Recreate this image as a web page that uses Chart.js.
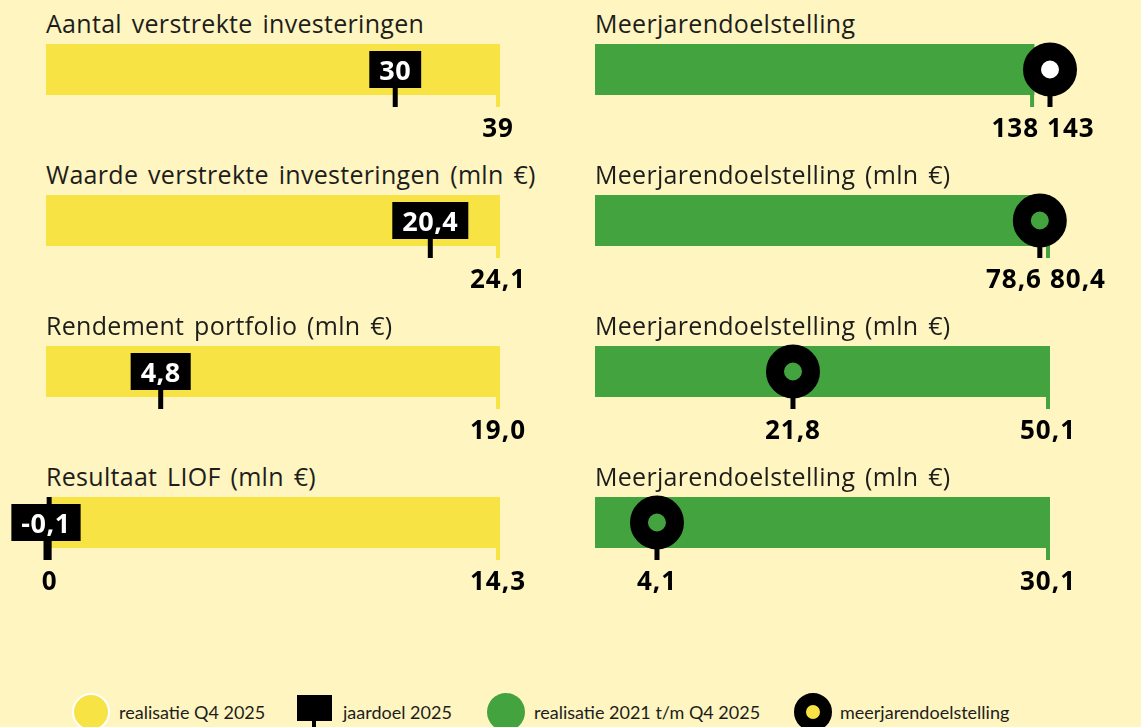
<!DOCTYPE html>
<html lang="nl">
<head>
<meta charset="utf-8">
<title>LIOF doelstellingen</title>
<script src="https://cdn.jsdelivr.net/npm/chart.js@4.4.1/dist/chart.umd.min.js"></script>
<style>
  html, body { margin: 0; padding: 0; background: #fef5c1; }
  body { width: 1141px; height: 727px; position: relative; overflow: hidden;
         font-family: "Open Sans", "Noto Sans", sans-serif; color: #1d1d1b; }
  .title { position: absolute; font-size: 25px; line-height: 25px; white-space: nowrap;
           letter-spacing: 0.3px; word-spacing: 3px; }
  canvas { position: absolute; }
  .legend { position: absolute; top: 693px; height: 38px; display: flex; align-items: center;
            font-family: Lato, sans-serif; font-size: 18px; white-space: nowrap; }
  .sym { position: absolute; box-sizing: border-box; }
</style>
</head>
<body>
<div id="root"></div>
<script>
// titels per rij
const titlesJaar = ['Aantal verstrekte investeringen', 'Waarde verstrekte investeringen (mln €)',
                    'Rendement portfolio (mln €)', 'Resultaat LIOF (mln €)'];
const titlesMeerjarig = ['Meerjarendoelstelling', 'Meerjarendoelstelling (mln €)',
                         'Meerjarendoelstelling (mln €)', 'Meerjarendoelstelling (mln €)'];
// waarden
const realisatieQ4 = [39, 24.1, 19.0, 14.3];
const jaardoel2025 = [30, 20.4, 4.8, -0.1];
const realisatieMeerjarig = [138, 80.4, 50.1, 30.1];
const meerjarendoel = [143, 78.6, 21.8, 4.1];
const decimalen = [0, 1, 1, 1];

const YELLOW = '#f8e345', GREEN = '#43a33f';
const ROW_TOP = [44, 195, 346, 497];
const BAR_H = 51, TICK = 12;
const COLS = [{ x: 46, w: 454 }, { x: 595, w: 455 }];
const PAD_L = 40, PAD_R = 60, PAD_T = 10, PAD_B = 58;
const LABEL_FONT = 'bold 26px "Open Sans"';

const fmt = (v, d) => v.toFixed(d).replace('.', ',');

const bulletMarks = {
  id: 'bulletMarks',
  afterDatasetsDraw(chart, args, o) {
    const { ctx, chartArea: a, scales: { x } } = chart;
    const top = a.top, bot = a.bottom, cy = (top + bot) / 2;
    const xv = x.getPixelForValue(o.value);
    const xt = x.getPixelForValue(o.target);
    ctx.save();
    // eindstreepje van de balk
    ctx.fillStyle = o.color;
    ctx.fillRect(xv - 4, bot - 1, 4, TICK + 1);
    ctx.fillStyle = '#000';
    ctx.textBaseline = 'alphabetic';
    const ly = bot + 42;
    if (o.kind === 'box') {
      // jaardoel: zwart label met steeltje
      if (x.min < 0) {
        const x0 = x.getPixelForValue(0);
        ctx.fillRect(x0 - 2.5, top, 5, bot - top + TICK);
        ctx.font = LABEL_FONT;
        ctx.textAlign = 'center';
        ctx.fillText('0', x0, ly);
      }
      ctx.font = 'bold 27px "Open Sans"';
      ctx.letterSpacing = '0.5px';
      const t = fmt(o.target, o.dec);
      const w = ctx.measureText(t).width + 20, h = 37, by = top + 7;
      ctx.fillRect(xt - 2.5, by + h - 1, 5, bot + TICK - by - h + 1);
      ctx.fillRect(xt - w / 2, by, w, h);
      ctx.fillStyle = '#fff';
      ctx.textAlign = 'center';
      ctx.fillText(t, xt, by + h / 2 + 10);
      ctx.fillStyle = '#000';
      ctx.font = LABEL_FONT;
      ctx.letterSpacing = '1px';
      ctx.fillText(fmt(o.value, o.dec), xv - 2, ly);
    } else {
      // meerjarendoel: ring met steeltje
      ctx.fillRect(xt - 2.5, cy + 24, 5, bot + TICK - cy - 24);
      ctx.beginPath();
      ctx.arc(xt, cy, 18, 0, Math.PI * 2);
      ctx.fillStyle = o.value >= o.target ? o.color : '#fff';
      ctx.fill();
      ctx.lineWidth = 18;
      ctx.strokeStyle = '#000';
      ctx.stroke();
      ctx.fillStyle = '#000';
      ctx.font = LABEL_FONT;
      ctx.letterSpacing = '1px';
      const tv = fmt(o.value, o.dec), tt = fmt(o.target, o.dec);
      if (Math.abs(xv - xt) < 60) {
        const mid = (xv + xt) / 2;
        const leftT = xv < xt ? tv : tt, rightT = xv < xt ? tt : tv;
        ctx.textAlign = 'right';
        ctx.fillText(leftT, mid - 3, ly);
        ctx.textAlign = 'left';
        ctx.fillText(rightT, mid + 5, ly);
      } else {
        ctx.textAlign = 'center';
        ctx.fillText(tv, xv - 2, ly);
        ctx.fillText(tt, xt, ly);
      }
    }
    ctx.restore();
  }
};

function bullet(col, row, kind, value, target, color, dec, label) {
  const c = COLS[col];
  const cv = document.createElement('canvas');
  cv.width = PAD_L + c.w + PAD_R;
  cv.height = PAD_T + BAR_H + PAD_B;
  cv.style.left = (c.x - PAD_L) + 'px';
  cv.style.top = (ROW_TOP[row] - PAD_T) + 'px';
  document.getElementById('root').appendChild(cv);
  new Chart(cv, {
    type: 'bar',
    data: {
      labels: [label],
      datasets: [{ data: [value], backgroundColor: color, borderWidth: 0,
                   barPercentage: 1, categoryPercentage: 1 }]
    },
    options: {
      indexAxis: 'y', responsive: false, animation: false, events: [],
      layout: { padding: { left: PAD_L, right: PAD_R, top: PAD_T, bottom: PAD_B } },
      scales: {
        x: { type: 'linear', display: false, min: Math.min(0, value, target), max: Math.max(value, target) },
        y: { display: false }
      },
      plugins: {
        legend: { display: false }, tooltip: { enabled: false },
        bulletMarks: { kind, value, target, color, dec }
      }
    },
    plugins: [bulletMarks]
  });
}

function title(col, row, text) {
  const d = document.createElement('div');
  d.className = 'title';
  d.textContent = text;
  d.style.left = COLS[col].x + 'px';
  d.style.top = (ROW_TOP[row] - 33) + 'px';
  document.getElementById('root').appendChild(d);
}

for (let i = 0; i < 4; i++) {
  title(0, i, titlesJaar[i]);
  title(1, i, titlesMeerjarig[i]);
  bullet(0, i, 'box', realisatieQ4[i], jaardoel2025[i], YELLOW, decimalen[i], titlesJaar[i]);
  bullet(1, i, 'ring', realisatieMeerjarig[i], meerjarendoel[i], GREEN, decimalen[i], titlesMeerjarig[i]);
}

// legenda
const legendItems = [
  { text: 'realisatie Q4 2025', x: 119, sym: { left: 72, top: 693, w: 38, h: 38, r: '50%', bg: YELLOW, border: '2px solid #fff' } },
  { text: 'jaardoel 2025', x: 343, sym: { left: 297, top: 695, w: 35, h: 26, r: '0', bg: '#000' }, stem: 314 },
  { text: 'realisatie 2021 t/m Q4 2025', x: 534, sym: { left: 487, top: 693, w: 38, h: 38, r: '50%', bg: GREEN } },
  { text: 'meerjarendoelstelling', x: 840, sym: { left: 794, top: 693, w: 38, h: 38, r: '50%', bg: YELLOW, border: '12px solid #000' } }
];
legendItems.forEach(it => {
  const s = document.createElement('div');
  s.className = 'sym';
  Object.assign(s.style, { left: it.sym.left + 'px', top: it.sym.top + 'px', width: it.sym.w + 'px',
    height: it.sym.h + 'px', borderRadius: it.sym.r, background: it.sym.bg, border: it.sym.border || 'none' });
  document.getElementById('root').appendChild(s);
  if (it.stem) {
    const st = document.createElement('div');
    st.className = 'sym';
    Object.assign(st.style, { left: (it.stem - 2) + 'px', top: '720px', width: '4px', height: '10px', background: '#000' });
    document.getElementById('root').appendChild(st);
  }
  const t = document.createElement('div');
  t.className = 'legend';
  t.style.left = it.x + 'px';
  t.textContent = it.text;
  document.getElementById('root').appendChild(t);
});
</script>
</body>
</html>
